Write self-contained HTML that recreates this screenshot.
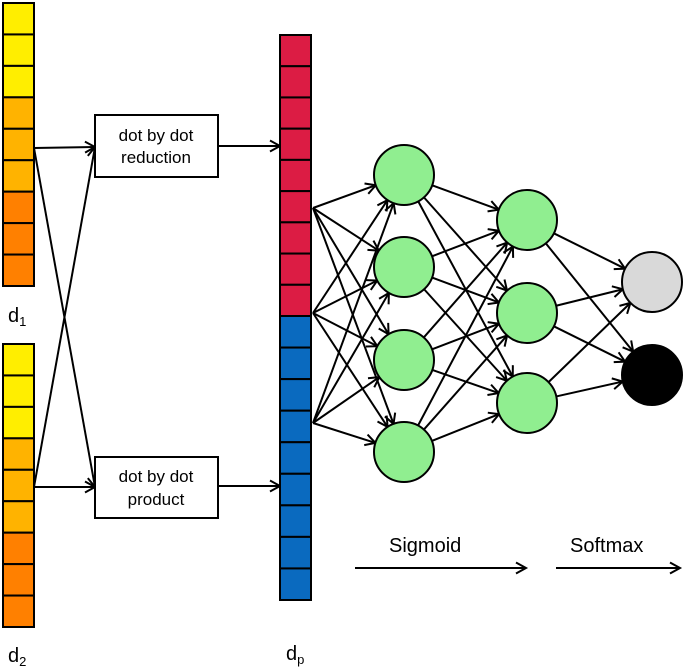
<!DOCTYPE html>
<html><head><style>body{margin:0;background:#fff}svg{display:block}</style></head>
<body>
<svg id="s" width="685" height="669" xmlns="http://www.w3.org/2000/svg" font-family="Liberation Sans, Arial, sans-serif">
<defs>
<marker id="a" markerWidth="14" markerHeight="14" refX="11" refY="7" orient="auto" markerUnits="userSpaceOnUse">
<path d="M1,1.5 L11,7 L1,12.5" fill="none" stroke="#000" stroke-width="2"/>
</marker>
</defs>
<g id="g" stroke="#000" stroke-width="2"></g>
<rect x="95" y="115" width="123" height="62" fill="#fff" stroke="#000" stroke-width="2"/>
<text x="156" y="141" font-size="17" text-anchor="middle">dot by dot</text>
<text x="156" y="163" font-size="17" text-anchor="middle">reduction</text>
<rect x="95" y="457" width="123" height="61" fill="#fff" stroke="#000" stroke-width="2"/>
<text x="156" y="482" font-size="17" text-anchor="middle">dot by dot</text>
<text x="156" y="505" font-size="17" text-anchor="middle">product</text>
<text x="8" y="322" font-size="20">d<tspan font-size="13" dy="4">1</tspan></text>
<text x="8" y="662" font-size="20">d<tspan font-size="13" dy="4">2</tspan></text>
<text x="286" y="660" font-size="20">d<tspan font-size="13" dy="4">p</tspan></text>
<text x="389" y="552" font-size="20">Sigmoid</text>
<text x="570" y="552" font-size="20">Softmax</text>
<line x1="355" y1="568" x2="526" y2="568" stroke="#000" stroke-width="2" marker-end="url(#a)"/>
<line x1="556" y1="568" x2="680" y2="568" stroke="#000" stroke-width="2" marker-end="url(#a)"/>
</svg>
<script>
var s=document.getElementById('s'),g=document.getElementById('g'),NS='http://www.w3.org/2000/svg';
function el(p,t,a){var e=document.createElementNS(NS,t);for(var k in a)e.setAttribute(k,a[k]);p.appendChild(e);return e;}
function col(x,y0,y1,cols){var h=(y1-y0)/cols.length;cols.forEach(function(c,i){el(s,'rect',{x:x,y:y0+i*h,width:31,height:h,fill:c,stroke:'#000','stroke-width':2});});}
var Y='#ffee00',O='#ffb300',R='#ff8000';
var c1=[Y,Y,Y,O,O,O,R,R,R];
col(3,3,286,c1);col(3,344,627,c1);
var rd=[],bl=[];for(var i=0;i<9;i++){rd.push('#dc1c44');bl.push('#0a6abf');}
col(280,35,316,rd);col(280,316,600,bl);
function ln(x1,y1,x2,y2){el(g,'line',{x1:x1,y1:y1,x2:x2,y2:y2,'marker-end':'url(#a)'});}
ln(34,148,95,147);ln(34,148,95,487);ln(34,487,95,147);ln(34,487,95,487);
ln(218,146,280,146);ln(218,486,280,486);
var r=30;
var L1=[[404,175],[404,267],[404,360],[404,452]],L2=[[527,220],[527,313],[527,403]],L3=[[652,282],[652,375]];
var src=[[313,208],[313,313],[313,423]];
function conn(A,B){A.forEach(function(a){B.forEach(function(b){var dx=b[0]-a[0],dy=b[1]-a[1],d=Math.hypot(dx,dy);ln(a[0]+(a[2]||0)*dx/d,a[1]+(a[2]||0)*dy/d,b[0]-r*dx/d,b[1]-r*dy/d);});});}
conn(src,L1);
conn(L1.map(function(p){return [p[0],p[1],r]}),L2);
conn(L2.map(function(p){return [p[0],p[1],r]}),L3);
L1.concat(L2).forEach(function(p){el(s,'circle',{cx:p[0],cy:p[1],r:r,fill:'#90ee90',stroke:'#000','stroke-width':2});});
el(s,'circle',{cx:652,cy:282,r:r,fill:'#d9d9d9',stroke:'#000','stroke-width':2});
el(s,'circle',{cx:652,cy:375,r:r,fill:'#000',stroke:'#000','stroke-width':2});
</script>
</body></html>
